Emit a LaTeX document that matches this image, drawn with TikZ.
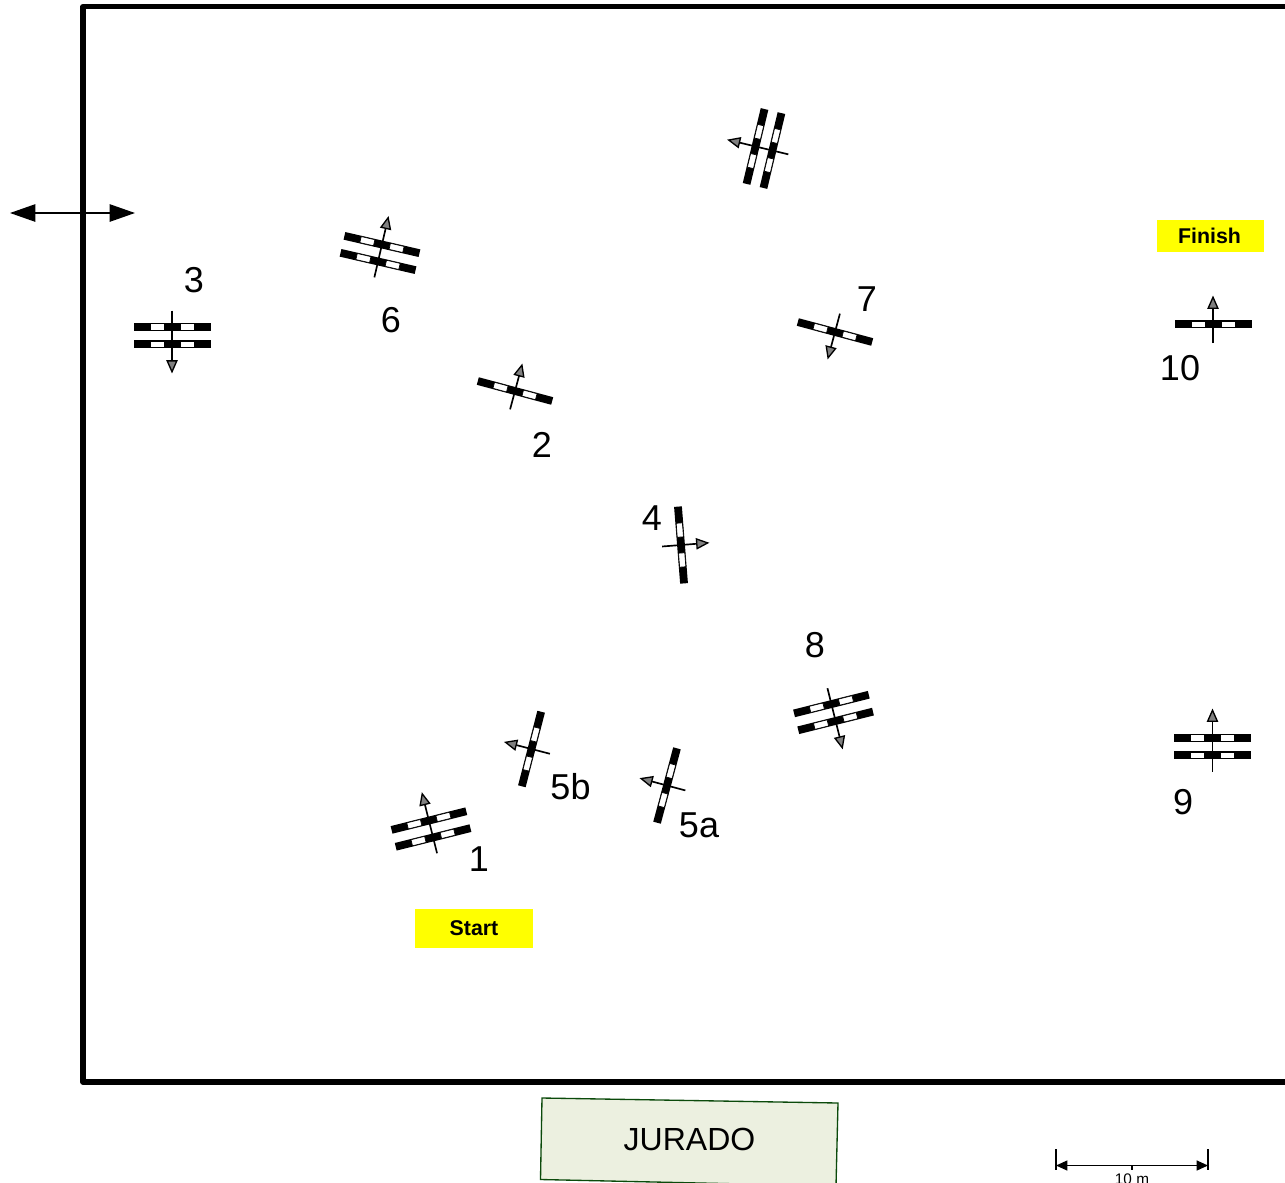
\documentclass[tikz,border=0pt]{standalone}
\usepackage{fontspec}
\setmainfont{Liberation Sans}
\usetikzlibrary{arrows.meta}
\definecolor{jurfill}{HTML}{ECF0E0}
\definecolor{jurline}{HTML}{0B4A0B}
\definecolor{signyellow}{HTML}{FFFF00}
\definecolor{tipgray}{HTML}{808080}
\tikzset{
  framestyle/.style={line width=4pt,line join=round,line cap=round},
  barblack/.style={fill=black,draw=none},
  barwhite/.style={fill=white,draw=black,line width=0.5pt},
  jumparrow/.style={line width=1.25pt,-{Triangle[length=10pt,width=8.5pt,fill=tipgray,line width=1pt]}},
  numlabel/.style={inner sep=0pt,font=\fontsize{27}{27}\selectfont},
  yellowbox/.style={fill=signyellow,draw=none,inner sep=0pt,font=\fontsize{16}{16}\selectfont\bfseries},
  bigarrow/.style={line width=1.2pt,{Triangle[length=19pt,width=13pt]}-{Triangle[length=19pt,width=13pt]}},
  scalearrow/.style={line width=0.9pt,{Triangle[length=8.5pt,width=7.5pt]}-{Triangle[length=8.5pt,width=7.5pt]}},
  scaletick/.style={line width=0.8pt}
}
\newcommand{\jumpbar}[1]{%
  \fill[barblack] (-38.5,#1-3.9) rectangle (38.5,#1+3.9);
  \draw[barwhite] (-22,#1-3.1) rectangle (-8,#1+3.1);
  \draw[barwhite] (8,#1-3.1) rectangle (22,#1+3.1);
}
\newcommand{\singlejump}[4]{%
  \begin{scope}[shift={(#2,#3)},rotate=#4]
    \coordinate (#1tail) at (0,19);
    \coordinate (#1tip) at (0,-28.5);
    \jumpbar{0}
    \draw[jumparrow] (#1tail) -- (#1tip);
  \end{scope}}
\newcommand{\doublejump}[4]{%
  \begin{scope}[shift={(#2,#3)},rotate=#4]
    \coordinate (#1tail) at (0,25);
    \coordinate (#1tip) at (0,-38);
    \jumpbar{-8.7}
    \jumpbar{8.7}
    \draw[jumparrow] (#1tail) -- (#1tip);
  \end{scope}}
\begin{document}
\begin{tikzpicture}[x=0.75pt,y=-0.75pt]
\useasboundingbox (0,0) rectangle (1285,1182);
\clip (0,0) rectangle (1285,1182);
% arena
\coordinate (ftr) at (1300,6.5);
\coordinate (ftl) at (83,6.5);
\coordinate (fbl) at (83,1082);
\coordinate (fbr) at (1300,1082);
\draw[framestyle] (ftr) -- (ftl) -- (fbl) -- (fbr);
% entrance arrow
\coordinate (enl) at (10,213);
\coordinate (enr) at (135,213);
\draw[bigarrow] (enl) -- (enr);
% jumps
\doublejump{j6}{380}{253}{-13}
\doublejump{jt}{764}{148.5}{76.5}
\doublejump{j3}{172}{335.5}{180}
\singlejump{j2}{515}{391}{-15}
\singlejump{j7}{835}{332}{165}
\singlejump{j10}{1213}{324}{0}
\singlejump{j4}{681}{545}{-85.5}
\doublejump{j8}{833.5}{712.5}{194}
\doublejump{j9}{1212.5}{746.5}{0}
\singlejump{j5b}{531.5}{749}{75.5}
\singlejump{j5a}{667}{785.5}{75}
\doublejump{j1}{431}{829}{14}
% numbers
\node[numlabel] (n3) at (194,280.5) {3};
\node[numlabel] (n6) at (391,320) {6};
\node[numlabel] (n2) at (542,445) {2};
\node[numlabel] (n7) at (867,299) {7};
\node[numlabel] (n10) at (1180,368) {10};
\node[numlabel] (n4) at (652,518) {4};
\node[numlabel] (n8) at (815,645) {8};
\node[numlabel] (n9) at (1183,802) {9};
\node[numlabel] (n5b) at (570.5,787) {5b};
\node[numlabel] (n5a) at (699,825) {5a};
\node[numlabel] (n1) at (479,859) {1};
% start / finish
\node[yellowbox,minimum width=88.5pt,minimum height=29pt] (start) at (474,928.5) {Start};
\node[yellowbox,minimum width=80pt,minimum height=24pt] (finish) at (1210.5,236) {Finish\kern1.5pt};
% jury
\draw[jurline,fill=jurfill,line width=1pt] (542,1098) -- (838,1103) -- (836,1186) -- (540.5,1179.5) -- cycle;
\node[inner sep=0pt,font=\fontsize{24}{24}\selectfont] (jurado) at (689.5,1139) {JURADO};
% scale
\coordinate (sl) at (1056,1165.5);
\coordinate (sr) at (1208,1165.5);
\coordinate (slt) at (1056,1149);
\coordinate (slb) at (1056,1170);
\coordinate (srt) at (1208,1149);
\coordinate (srb) at (1208,1170);
\coordinate (smt) at (1132,1165.5);
\coordinate (smb) at (1132,1170);
\draw[scalearrow] (sl) -- (sr);
\draw[scaletick] (slt) -- (slb);
\draw[scaletick] (srt) -- (srb);
\draw[scaletick] (smt) -- (smb);
\node[anchor=base,inner sep=0pt,font=\fontsize{11.5}{12}\selectfont] (scaletext) at (1132,1184.5) {10 m};
\end{tikzpicture}
\end{document}
